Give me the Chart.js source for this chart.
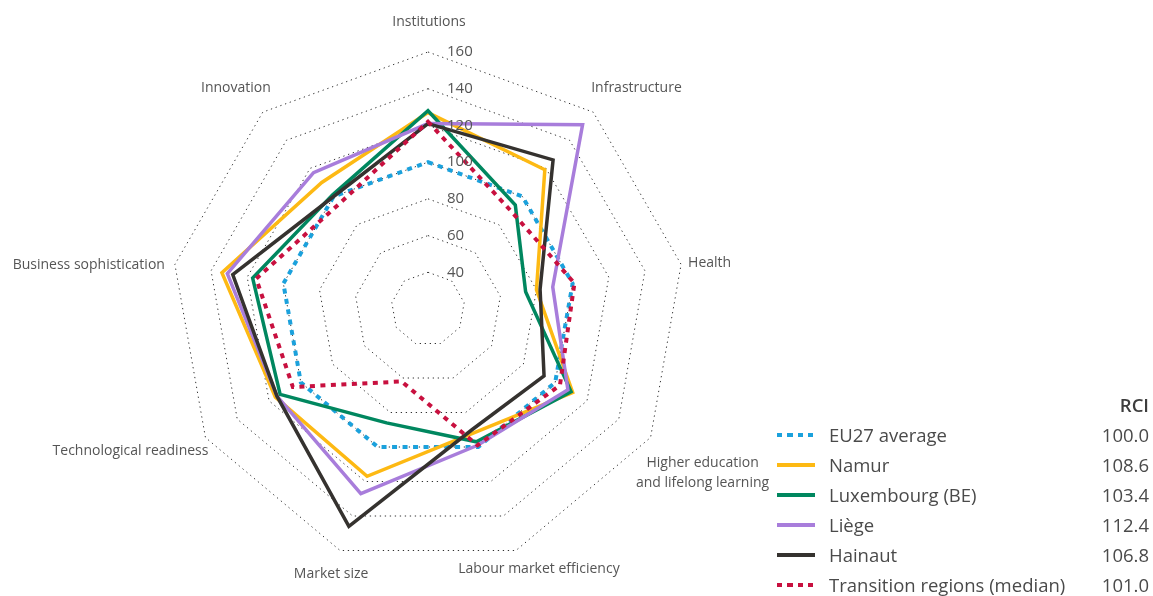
<!DOCTYPE html>
<html>
<head>
<meta charset="utf-8">
<script src="https://cdn.jsdelivr.net/npm/chart.js@4.4.0/dist/chart.umd.min.js"></script>
<style>
  html, body { margin: 0; padding: 0; background: #fff; }
  body { width: 1153px; height: 596px; position: relative; overflow: hidden; font-family: 'Open Sans', sans-serif; }
  #wrap { position: absolute; left: 0; top: 0; width: 1153px; height: 596px; }
  #legend { position: absolute; left: 777px; top: 390px; width: 372px; color: #4a4a4a; font-size: 18.5px; }
  #legend .row { display: flex; align-items: center; height: 30px; line-height: 30px; white-space: nowrap; }
  #legend .head { justify-content: flex-end; font-weight: 600; color: #3d3d3d; }
  #legend .swatch { width: 38px; height: 4px; margin-right: 14px; flex: none; }
  #legend .name { flex: 1; }
  #legend .val { text-align: right; }
</style>
</head>
<body>
<div id="wrap"><canvas id="radar-chart"></canvas></div>
<div id="legend"></div>
<script>
// Pillars, clockwise from the top
const categories = [
  'Institutions',
  'Infrastructure',
  'Health',
  ['Higher education', 'and lifelong learning'],
  'Labour market efficiency',
  'Market size',
  'Technological readiness',
  'Business sophistication',
  'Innovation'
];

const seriesNames = ['EU27 average', 'Namur', 'Luxembourg (BE)', 'Liège', 'Hainaut', 'Transition regions (median)'];
const rciValues = ['100.0', '108.6', '103.4', '112.4', '106.8', '101.0'];

const eu27 = [100, 100, 100, 100, 100, 100, 100, 100, 100];
const namur = [127, 119, 80, 111, 92, 117, 116, 134, 110];
const luxembourg = [128, 94, 74, 110, 97, 86, 113, 117, 101];
const liege = [121, 151, 89, 108, 99, 127, 115, 131, 117];
const hainaut = [121, 126, 82, 93, 90, 146, 115, 128, 100];
const transition = [122, 90, 101, 103, 99, 62, 105, 115, 95];

const tickMin = 20;
const tickMax = 160;
const tickStep = 20;

// styles
const seriesColors = ['#1ba1dc', '#fdb913', '#00875f', '#a87ddb', '#35322f', '#c8103f'];
const seriesDotted = [true, false, false, false, false, true];

// label offsets from the outer polygon vertex: [dx, dy, align]
const labelPlacement = [
  [1, -30, 'center'],
  [-2, -24, 'left'],
  [7, -1, 'left'],
  [52, 26, 'center'],
  [23, 19, 'center'],
  [-9, 24, 'center'],
  [3, 14, 'right'],
  [-10, 1, 'right'],
  [8, -24, 'right']
];

const seriesData = [eu27, namur, luxembourg, liege, hainaut, transition];

const axisLabels = {
  id: 'axisLabels',
  afterDatasetsDraw(chart) {
    const scale = chart.scales.r;
    const ctx = chart.ctx;
    ctx.save();
    ctx.fillStyle = '#555555';
    ctx.textBaseline = 'middle';

    ctx.font = '15px "Open Sans"';
    ctx.textAlign = 'left';
    scale.ticks.forEach((t, idx) => {
      if (idx === 0) return;
      const d = scale.getDistanceFromCenterForValue(t.value);
      ctx.fillText(String(t.value), scale.xCenter + 19, scale.yCenter - d);
    });

    ctx.font = '14px "Open Sans"';
    categories.forEach((name, i) => {
      const p = scale.getPointPosition(i, scale.drawingArea);
      const place = labelPlacement[i];
      ctx.textAlign = place[2];
      const lines = Array.isArray(name) ? name : [name];
      lines.forEach((line, k) => {
        ctx.fillText(line, p.x + place[0], p.y + place[1] + k * 19.5);
      });
    });
    ctx.restore();
  }
};

const ctx = document.getElementById('radar-chart');

new Chart(ctx, {
  type: 'radar',
  data: {
    labels: categories,
    datasets: seriesData.map((d, i) => ({
      label: seriesNames[i],
      data: d,
      borderColor: seriesColors[i],
      backgroundColor: 'transparent',
      borderWidth: seriesDotted[i] ? 4 : 3.5,
      borderDash: seriesDotted[i] ? [5, 5.5] : [],
      borderJoinStyle: 'miter',
      fill: false,
      tension: 0,
      pointRadius: 0,
      pointHoverRadius: 0,
      order: seriesData.length - i
    }))
  },
  options: {
    responsive: true,
    maintainAspectRatio: false,
    animation: false,
    layout: {
      padding: { left: 171, right: 468, top: 52, bottom: 30 }
    },
    plugins: {
      legend: { display: false },
      tooltip: { enabled: false }
    },
    scales: {
      r: {
        min: tickMin,
        max: tickMax,
        ticks: { stepSize: tickStep, display: false },
        angleLines: { display: false },
        pointLabels: { display: false },
        grid: { color: '#333333', lineWidth: 1 },
        border: { dash: [1.3, 3.7] }
      }
    }
  },
  plugins: [axisLabels]
});

// legend
const legend = document.getElementById('legend');
let html = '<div class="row head">RCI</div>';
seriesNames.forEach((name, i) => {
  const c = seriesColors[i];
  const bg = seriesDotted[i]
    ? `repeating-linear-gradient(to right, ${c} 0 5px, transparent 5px 10.5px)`
    : c;
  html += `<div class="row"><span class="swatch" style="background:${bg}"></span>` +
    `<span class="name">${name}</span><span class="val">${rciValues[i]}</span></div>`;
});
legend.innerHTML = html;
</script>
</body>
</html>
